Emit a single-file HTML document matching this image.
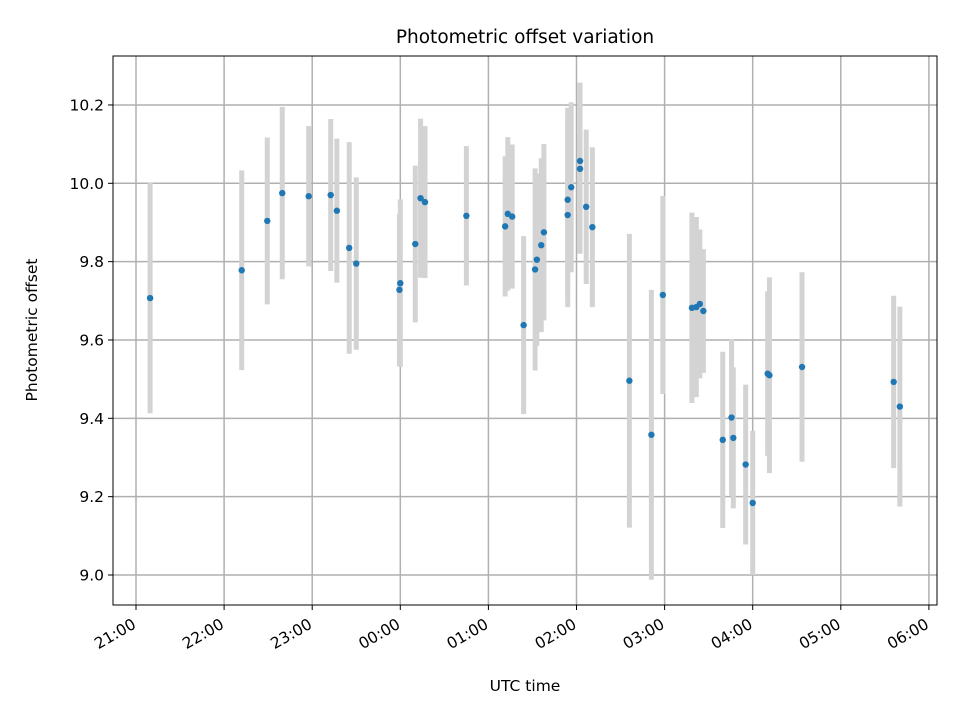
<!DOCTYPE html>
<html><head><meta charset="utf-8"><style>
body{margin:0;background:#fff}
svg{display:block;font-family:"DejaVu Sans","Liberation Sans",sans-serif}
</style></head><body>
<svg id="chart" width="960" height="720">
<rect width="960" height="720" fill="#fff"/>
<g id="grid"></g><g id="errs"></g><g id="pts"></g><g id="axes"></g>
</svg>
<script>
// hours since 21:00 UTC
const times=[0.16,1.20,1.49,1.66,1.96,2.21,2.28,2.42,2.50,3.00,2.99,3.17,3.23,3.28,3.75,4.19,4.22,4.27,4.40,4.53,4.55,4.60,4.63,4.90,4.90,4.94,5.04,5.04,5.11,5.18,5.60,5.85,5.98,6.31,6.36,6.40,6.44,6.66,6.76,6.78,6.92,7.00,7.17,7.19,7.56,8.60,8.67];
const offsets=[9.707,9.778,9.904,9.975,9.967,9.970,9.930,9.835,9.795,9.745,9.728,9.845,9.962,9.952,9.917,9.890,9.922,9.915,9.638,9.780,9.805,9.842,9.875,9.958,9.919,9.990,10.037,10.057,9.940,9.888,9.496,9.358,9.715,9.682,9.684,9.692,9.674,9.345,9.402,9.350,9.282,9.184,9.514,9.510,9.531,9.493,9.430];
const errors=[0.294,0.255,0.213,0.22,0.179,0.194,0.184,0.27,0.22,0.214,0.194,0.2,0.203,0.194,0.178,0.179,0.196,0.184,0.227,0.258,0.22,0.222,0.225,0.235,0.235,0.217,0.217,0.2,0.197,0.204,0.375,0.37,0.253,0.243,0.23,0.19,0.158,0.225,0.2,0.18,0.204,0.184,0.21,0.25,0.242,0.22,0.255];
const xTicks=["21:00","22:00","23:00","00:00","01:00","02:00","03:00","04:00","05:00","06:00"];
const yTicks=[9.0,9.2,9.4,9.6,9.8,10.0,10.2];
const L=113,R=937,T=56,B=605;
const sx=h=>136+h*88.1;
const sy=v=>575-(v-9.0)*391.7;
const NS="http://www.w3.org/2000/svg";
function mk(tag,at,parent,txt){const e=document.createElementNS(NS,tag);for(const k in at)e.setAttribute(k,at[k]);if(txt!==undefined)e.textContent=txt;document.getElementById(parent).appendChild(e);return e;}
xTicks.forEach((t,i)=>{const x=sx(i);
 const g=mk('line',{x1:x,x2:x,y1:T,y2:B,stroke:'#b0b0b0','stroke-width':1.5},'grid');
 
 
 mk('line',{x1:x,x2:x,y1:B,y2:B+5,stroke:'#000','stroke-width':1},'axes');
 const ax=x-2, ay=B+23;
 const lb=mk('text',{x:ax,y:ay,'font-size':15.5,'text-anchor':'end',transform:`rotate(-30 ${ax} ${ay-6})`},'axes',t);
 
 
});
yTicks.forEach(v=>{const y=sy(v);
 const g=mk('line',{x1:L,x2:R,y1:y,y2:y,stroke:'#b0b0b0','stroke-width':1.5},'grid');
 
 
 mk('line',{x1:L-5,x2:L,y1:y,y2:y,stroke:'#000','stroke-width':1},'axes');
 const lb=mk('text',{x:L-9,y:y+5.5,'font-size':15.5,'text-anchor':'end'},'axes',v.toFixed(1));
 
 
});
times.forEach((h,i)=>{const x=sx(h);
 const e=mk('line',{x1:x,x2:x,y1:sy(offsets[i]+errors[i]),y2:sy(offsets[i]-errors[i]),stroke:'#d3d3d3','stroke-width':5},'errs');
 
 
 const c=mk('circle',{cx:x,cy:sy(offsets[i]),r:3.2,fill:'#1f77b4'},'pts');
 
 
});
const f=mk('rect',{x:L,y:T,width:R-L,height:B-T,fill:'none',stroke:'#000','stroke-width':1},'axes');


const ti=mk('text',{x:(L+R)/2,y:43,'font-size':18.5,'text-anchor':'middle'},'axes','Photometric offset variation');


const xl=mk('text',{x:(L+R)/2,y:691,'font-size':15.5,'text-anchor':'middle'},'axes','UTC time');


const yl=mk('text',{x:37,y:330,'font-size':15.5,'text-anchor':'middle',transform:'rotate(-90 37 330)'},'axes','Photometric offset');


</script>
</body></html>
